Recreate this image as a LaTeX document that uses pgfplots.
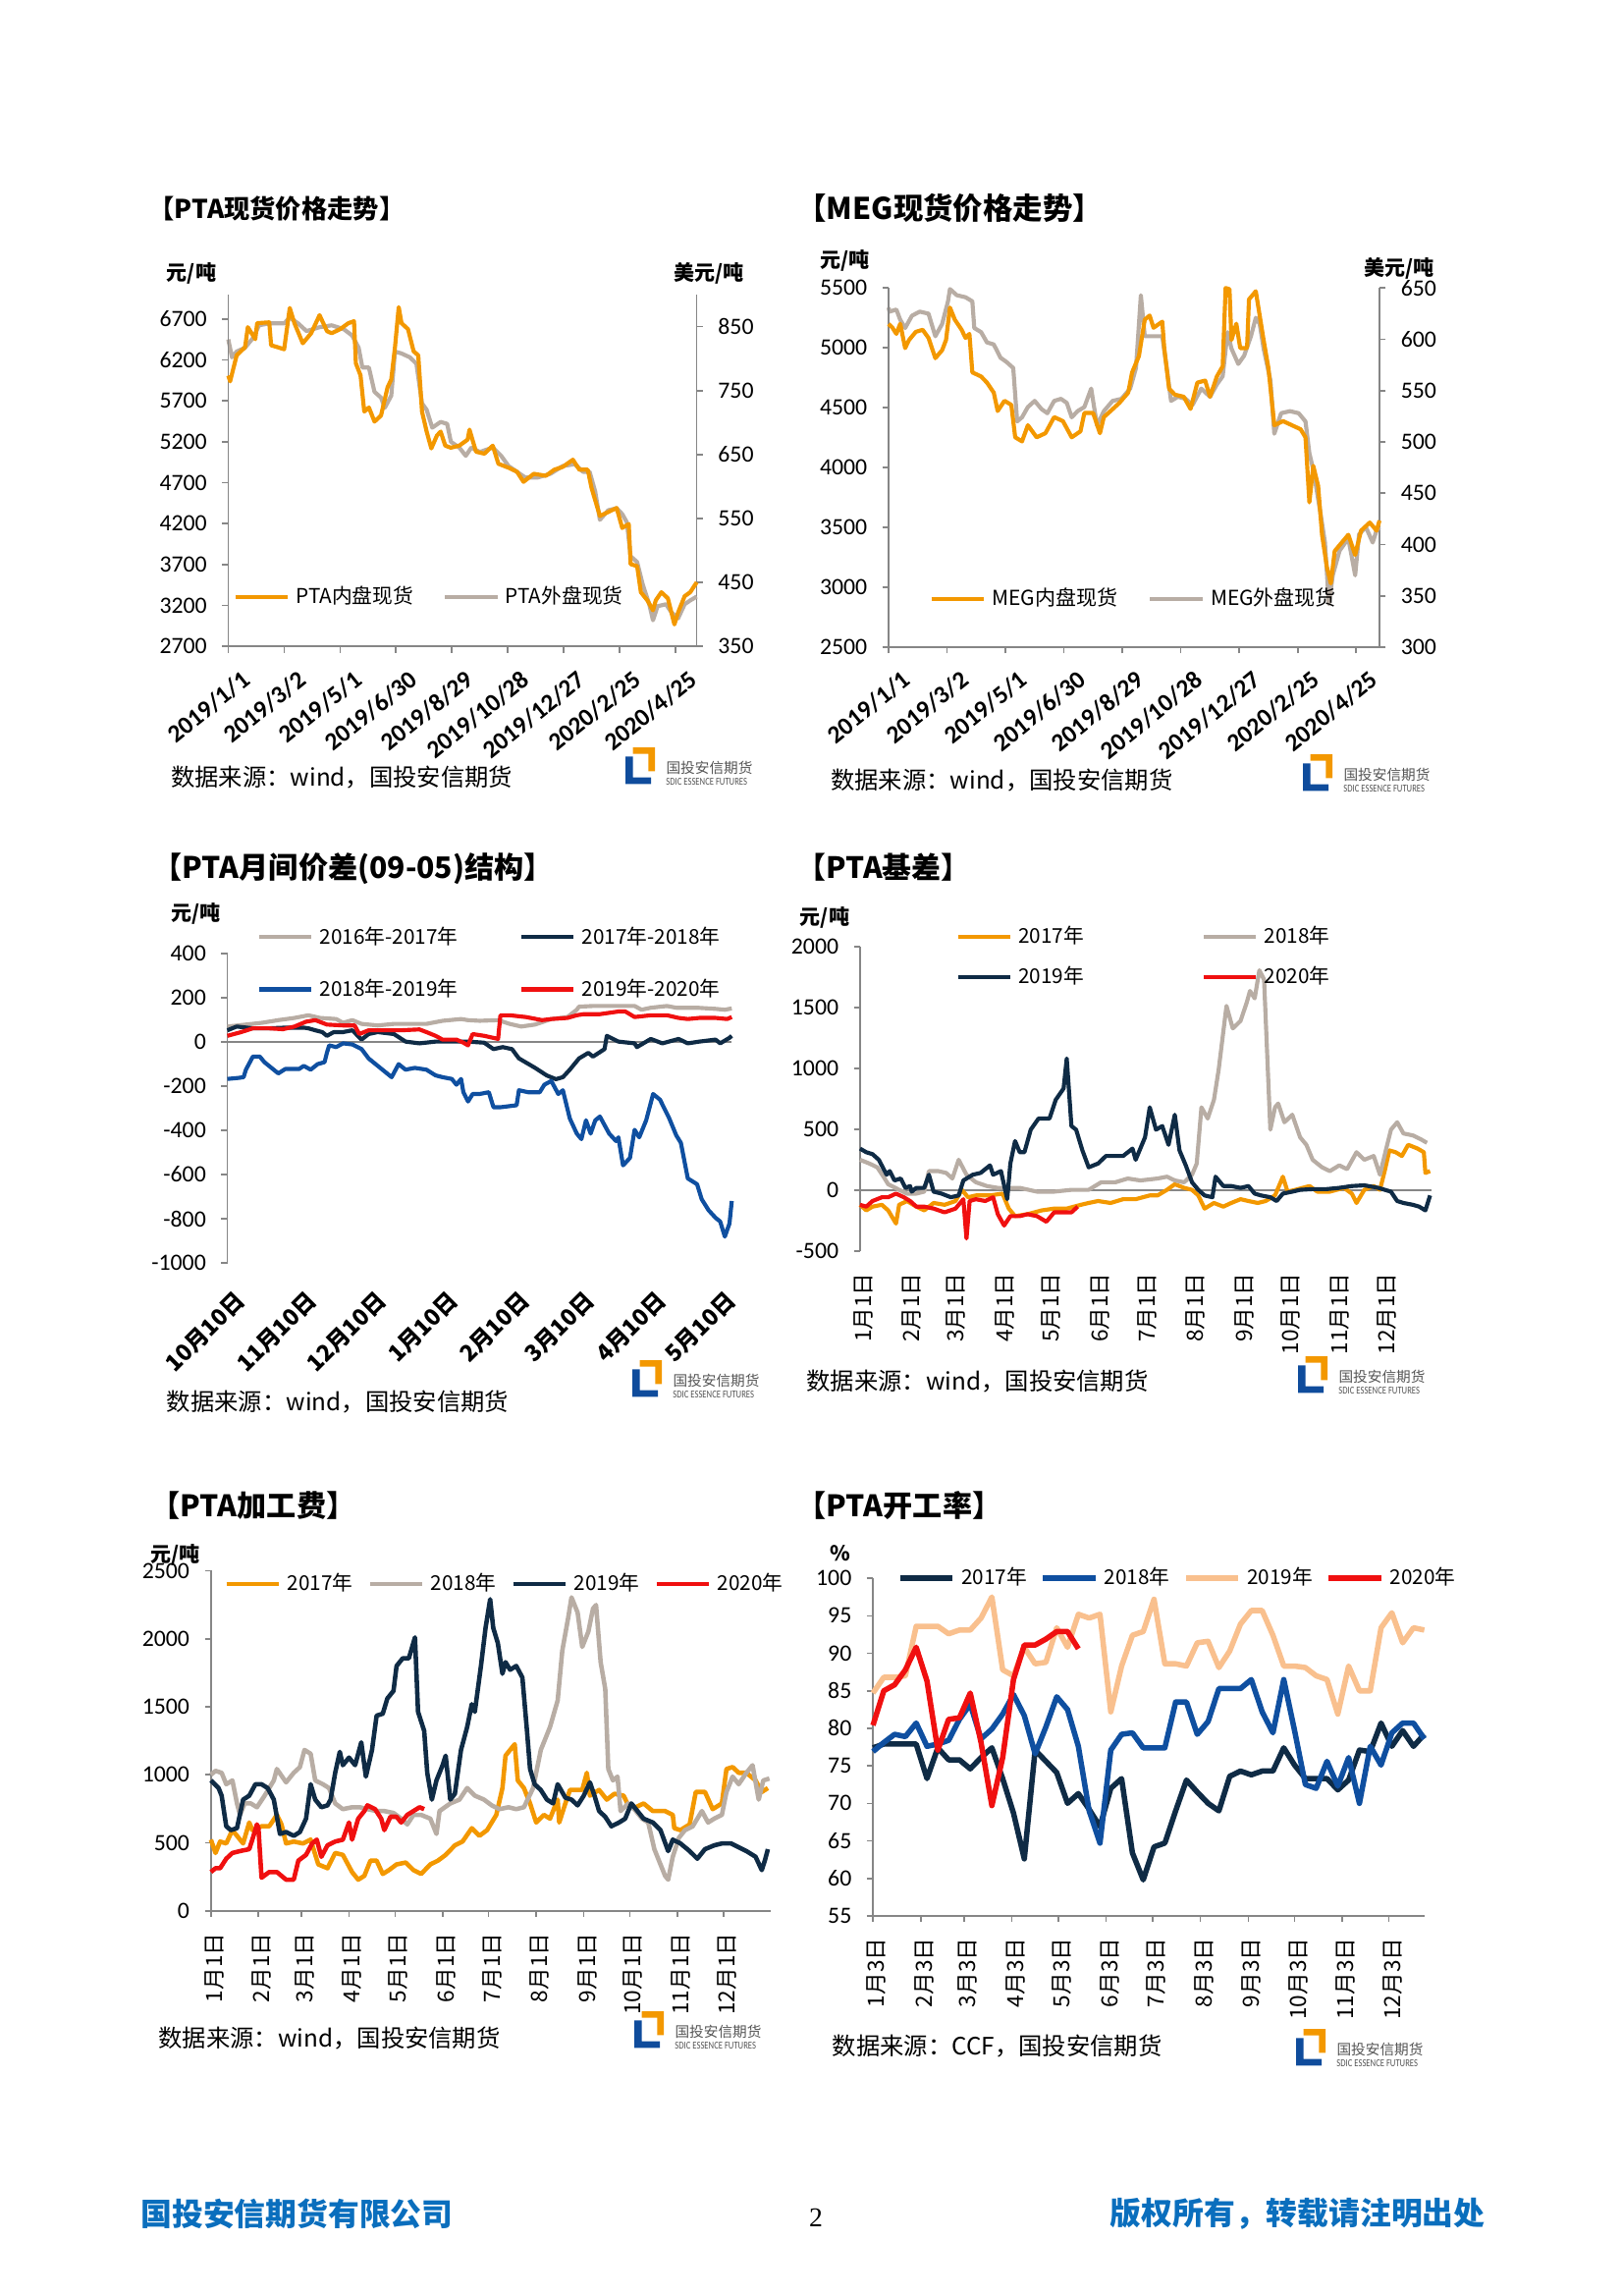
\documentclass[border=0pt]{standalone}
\usepackage{pgfplots}
\pgfplotsset{compat=1.18}
\usepackage{fontspec}
\setmainfont{Carlito}
\newfontfamily\cjk{Noto Sans CJK SC}
\newfontfamily\serif{Liberation Serif}

\definecolor{porange}{HTML}{F39800}
\definecolor{pgrey}{HTML}{B8ADA4}
\definecolor{pnavy}{HTML}{0F2B45}
\definecolor{pblue}{HTML}{0F4FA0}
\definecolor{pred}{HTML}{F01010}
\definecolor{ppeach}{HTML}{F9C08E}
\definecolor{axgrey}{HTML}{868686}
\definecolor{footblue}{HTML}{0A6EBD}
\definecolor{logoblue}{HTML}{0F4C9C}
\definecolor{logogrey}{HTML}{555555}

\pgfplotsset{
  base/.style={
    scale only axis, enlargelimits=false, clip=false,
    axis line style={draw=axgrey, line width=0.6pt},
    tick style={draw=axgrey, line width=0.6pt},
    tick align=outside, major tick length=0.8mm,
    /pgf/number format/assume math mode=true,
    /pgf/number format/1000 sep={},
    tick label style={font=\fontsize{8.6}{10}\selectfont},
    legend style={draw=none, fill=none, inner sep=0pt, outer sep=0pt,
      nodes={inner sep=0.8mm}, font=\cjk\fontsize{7.5}{9}\selectfont},
    legend cell align=left,
    legend image code/.code={\draw[##1] (0mm,0mm) -- (6.8mm,0mm);},
    every axis plot/.append style={line width=1.5pt, line join=round},
  },
  leftlab/.style={yticklabel style={inner sep=0pt, anchor=east, xshift=-1.9mm}},
  rightlab/.style={yticklabel style={inner sep=0pt, anchor=west, xshift=1.9mm}},
  datelab/.style={xticklabel style={font=\bfseries\fontsize{9.2}{11}\selectfont,
      inner sep=0pt, anchor=east, xshift=2.4mm, yshift=-3.0mm, rotate=39}},
  monthlab/.style={xticklabel style={font=\cjk\fontsize{8.2}{9}\selectfont,
      inner sep=0pt, anchor=east, xshift=0.45mm, yshift=-2.0mm, rotate=90}},
  zeroline/.style={extra y ticks={0}, extra y tick labels={},
      extra y tick style={grid=major, major grid style={draw=axgrey, line width=0.6pt}, major tick length=0pt}},
}

\newcommand\logo[2]{%
  \begin{scope}[shift={(#1,-#2)}]
    \fill[porange] (7.7,0) -- (30,0) -- (30,-24.3) -- (23.3,-24.3) -- (23.3,-6.7) -- (7.7,-6.7) -- cycle;
    \fill[logoblue] (0,-9.3) -- (7.7,-9.3) -- (7.7,-30.6) -- (26,-30.6) -- (26,-37.3) -- (0,-37.3) -- cycle;
    \node[anchor=west, inner sep=0pt, text=logogrey, font=\cjk\fontsize{5.3}{6}\selectfont] at (41,-21) {国投安信期货};
    \node[anchor=west, inner sep=0pt, text=logogrey, font=\fontsize{3.9}{4}\selectfont, xscale=0.8] at (41,-35) {SDIC ESSENCE FUTURES};
  \end{scope}}

\newcommand\ttl[4]{\node[anchor=west, inner sep=0pt, font=\cjk\bfseries\fontsize{#3}{12}\selectfont] at (#1,-#2) {#4};}
\newcommand\unit[3]{\node[anchor=west, inner sep=0pt, font=\cjk\bfseries\fontsize{7.6}{9}\selectfont] at (#1,-#2) {#3};}
\newcommand\src[3]{\node[anchor=west, inner sep=0pt, font=\cjk\fontsize{8.8}{10}\selectfont] at (#1,-#2) {#3};}

\begin{document}
\begin{tikzpicture}
\begin{scope}[x=0.12712mm, y=0.12712mm]
  \path (0,0) rectangle (1652,-2338);
  \coordinate (A1) at (232.5,-658.3);
  \coordinate (A2) at (905,-659);
  \coordinate (A3) at (231.6,-1286);
  \coordinate (A4) at (875.9,-1273.8);
  \coordinate (A5) at (214.8,-1945.9);
  \coordinate (A6) at (889.1,-1950.9);

  \ttl{151}{212.5}{9.5}{【PTA现货价格走势】}
  \ttl{811}{212}{11}{【MEG现货价格走势】}
  \ttl{155}{884.8}{10.9}{【PTA月间价差(09-05)结构】}
  \ttl{811}{882.9}{10.8}{【PTA基差】}
  \ttl{153}{1533.3}{10.9}{【PTA加工费】}
  \ttl{811}{1533.3}{10.9}{【PTA开工率】}

  \unit{169.4}{278}{元/吨}
  \node[anchor=east, inner sep=0pt, font=\cjk\bfseries\fontsize{7.6}{9}\selectfont] at (757.9,-278) {美元/吨};
  \unit{834.7}{265.6}{元/吨}
  \node[anchor=east, inner sep=0pt, font=\cjk\bfseries\fontsize{7.6}{9}\selectfont] at (1461,-273.5) {美元/吨};
  \unit{173.6}{930.7}{元/吨}
  \unit{814.4}{934.5}{元/吨}
  \unit{152.6}{1583.8}{元/吨}
  \unit{845}{1581.9}{\%}

  \src{173.6}{792}{数据来源：wind，国投安信期货}
  \src{845.7}{795}{数据来源：wind，国投安信期货}
  \src{169.4}{1427.5}{数据来源：wind，国投安信期货}
  \src{821}{1406.4}{数据来源：wind，国投安信期货}
  \src{161}{2075.3}{数据来源：wind，国投安信期货}
  \src{847.3}{2083}{数据来源：CCF，国投安信期货}

  \logo{637}{761}
  \logo{1327}{768}
  \logo{644}{1385}
  \logo{1322}{1381}
  \logo{646}{2048}
  \logo{1320}{2066}

  \node[anchor=west, inner sep=0pt, text=footblue, font=\cjk\bfseries\fontsize{11.5}{13}\selectfont] at (143,-2254) {国投安信期货有限公司};
  \node[inner sep=0pt, font=\serif\fontsize{10}{12}\selectfont] at (831,-2258) {2};
  \node[anchor=east, inner sep=0pt, text=footblue, font=\cjk\bfseries\fontsize{11.5}{13}\selectfont] at (1513,-2254) {版权所有，转载请注明出处};
\end{scope}

% ---------- PTA spot price: right axis (USD) ----------
\begin{axis}[base, rightlab, at={(A1)}, anchor=south west, width=60.65mm, height=45.55mm,
  xmin=0, xmax=503, ymin=350, ymax=900, axis x line=none, axis y line*=right,
  ytick={350,450,...,850}]
\addplot[pgrey] coordinates {(0,830)(4,802)(9,811)(18,817)(27,833)(33,852)(44,855)(60,855)(66,864)(75,855)(84,843)(98,849)(111,852)(124,846)(133,836)(140,817)(144,786)(151,786)(157,748)(164,739)(168,723)(175,742)(179,811)(186,808)(195,802)(202,792)(208,730)(213,720)(219,692)(228,701)(235,698)(239,670)(248,661)(255,648)(261,661)(270,654)(284,661)(293,648)(301,632)(310,623)(319,614)(332,614)(346,620)(359,632)(372,635)(381,623)(388,623)(394,592)(399,548)(408,563)(417,566)(423,557)(428,544)(432,491)(439,482)(445,447)(452,416)(456,391)(461,413)(470,416)(476,403)(483,394)(490,416)(496,422)(503,428)};
\end{axis}
% ---------- PTA spot price: left axis (CNY) ----------
\begin{axis}[base, leftlab, datelab, at={(A1)}, anchor=south west, width=60.65mm, height=45.55mm,
  xmin=0, xmax=503, ymin=2700, ymax=7000, axis x line*=bottom, axis y line*=left,
  ytick={2700,3200,...,6700}, xtick={0,60,...,480},
  xticklabels={2019/1/1,2019/3/2,2019/5/1,2019/6/30,2019/8/29,2019/10/28,2019/12/27,2020/2/25,2020/4/25},
  legend columns=2,
  legend style={at={(0.0105,0.140)}, anchor=west, /tikz/every even column/.append style={column sep=3mm}}]
\addplot[porange] coordinates {(0,6010)(2,5940)(9,6258)(18,6357)(21,6602)(29,6455)(31,6651)(44,6661)(46,6381)(53,6357)(60,6332)(66,6837)(71,6651)(80,6405)(89,6528)(98,6749)(106,6553)(111,6528)(120,6577)(129,6651)(135,6675)(137,6160)(142,6013)(146,5571)(151,5620)(157,5448)(164,5522)(171,5866)(175,5964)(179,6357)(183,6847)(186,6651)(193,6577)(199,6307)(204,6258)(208,5571)(213,5326)(218,5120)(224,5277)(228,5326)(233,5154)(239,5129)(248,5154)(257,5228)(259,5350)(266,5080)(275,5056)(284,5154)(290,4933)(301,4884)(310,4835)(317,4712)(328,4810)(341,4786)(350,4860)(359,4894)(370,4982)(377,4860)(386,4860)(390,4639)(399,4295)(408,4344)(417,4393)(423,4148)(430,4197)(432,3706)(439,3682)(443,3363)(450,3264)(456,3142)(459,3264)(465,3363)(472,3289)(479,2970)(483,3117)(490,3314)(496,3363)(503,3485)};
\addlegendentry{PTA内盘现货}
\addlegendimage{pgrey, line width=1.5pt}
\addlegendentry{PTA外盘现货}
\end{axis}

% ---------- MEG spot price: right axis (USD) ----------
\begin{axis}[base, rightlab, at={(A2)}, anchor=south west, width=63.56mm, height=46.49mm,
  xmin=0, xmax=504, ymin=300, ymax=650, axis x line=none, axis y line*=right,
  ytick={300,350,...,650}]
\addplot[pgrey] coordinates {(0,631)(1,627)(8,629)(12,619)(17,611)(24,623)(32,627)(41,625)(48,603)(55,615)(61,637)(63,649)(70,643)(79,641)(86,637)(88,611)(95,607)(101,597)(108,595)(115,582)(121,578)(128,572)(132,520)(137,524)(143,534)(150,540)(157,532)(163,528)(170,540)(177,542)(183,538)(188,524)(194,530)(201,534)(208,552)(214,516)(221,530)(230,540)(239,542)(248,552)(254,572)(259,643)(263,603)(272,603)(281,603)(285,576)(290,540)(297,544)(305,542)(312,536)(321,552)(330,544)(337,556)(343,564)(348,607)(352,591)(359,576)(365,584)(372,603)(377,621)(381,615)(385,591)(392,560)(396,508)(403,528)(412,530)(421,528)(428,520)(432,489)(436,473)(443,433)(448,402)(452,342)(456,370)(463,394)(472,406)(479,370)(483,410)(490,417)(497,402)(501,414)(504,417)};
\end{axis}
% ---------- MEG spot price: left axis (CNY) ----------
\begin{axis}[base, leftlab, datelab, at={(A2)}, anchor=south west, width=63.56mm, height=46.49mm,
  xmin=0, xmax=504, ymin=2500, ymax=5500, axis x line*=bottom, axis y line*=left,
  ytick={2500,3000,...,5500}, xtick={0,60,...,480},
  xticklabels={2019/1/1,2019/3/2,2019/5/1,2019/6/30,2019/8/29,2019/10/28,2019/12/27,2020/2/25,2020/4/25},
  legend columns=2,
  legend style={at={(0.083,0.1345)}, anchor=west, font=\cjk\fontsize{7.6}{9}\selectfont, /tikz/every even column/.append style={column sep=3.1mm}}]
\addplot[porange] coordinates {(0,5200)(4,5168)(8,5117)(12,5202)(17,4998)(21,5066)(28,5134)(35,5151)(41,5083)(48,4914)(55,4981)(59,5066)(63,5337)(68,5236)(75,5151)(79,5083)(83,5117)(86,4795)(95,4761)(101,4710)(108,4626)(112,4473)(119,4558)(126,4524)(130,4253)(137,4219)(143,4354)(152,4253)(161,4287)(170,4422)(179,4388)(188,4253)(197,4303)(201,4456)(210,4456)(217,4287)(221,4422)(228,4473)(237,4541)(246,4626)(250,4795)(257,4931)(263,5236)(268,5270)(272,5168)(281,5219)(283,4998)(288,4659)(294,4609)(303,4592)(310,4490)(317,4710)(325,4727)(330,4592)(337,4761)(343,4846)(346,5500)(350,5490)(352,5066)(357,5202)(361,4998)(368,4998)(370,5405)(377,5473)(381,5270)(385,5066)(390,4829)(396,4354)(405,4388)(414,4354)(423,4320)(428,4253)(432,3710)(436,4015)(441,3846)(445,3439)(450,3168)(454,3032)(458,3303)(465,3371)(472,3439)(479,3270)(485,3473)(494,3541)(501,3473)(504,3558)};
\addlegendentry{MEG内盘现货}
\addlegendimage{pgrey, line width=1.5pt}
\addlegendentry{MEG外盘现货}
\end{axis}

% ---------- PTA 09-05 spread ----------
\begin{axis}[base, leftlab, zeroline, at={(A3)}, anchor=south west, width=65.30mm, height=40.07mm,
  xmin=0, xmax=218, ymin=-1000, ymax=400, axis x line*=bottom, axis y line*=left,
  x axis line style={draw=none}, xtick style={draw=none},
  ytick={-1000,-800,...,400}, xtick={0,31,61,92,123,151,182,212},
  xticklabels={10月10日,11月10日,12月10日,1月10日,2月10日,3月10日,4月10日,5月10日},
  xticklabel style={font=\cjk\bfseries\fontsize{8.4}{9}\selectfont, inner sep=0pt, anchor=east, xshift=1.8mm, yshift=-3.5mm, rotate=45},
  legend columns=2,
  legend style={at={(0.059,0.968)}, anchor=west, row sep=2.4mm, /tikz/every even column/.append style={column sep=7.1mm}}]
\addplot[pgrey] coordinates {(0,69)(8,78)(15,86)(22,98)(29,108)(35,120)(40,108)(47,103)(50,86)(54,98)(58,81)(65,74)(72,81)(79,81)(86,81)(93,95)(101,103)(104,98)(109,95)(117,98)(122,81)(127,69)(133,78)(140,103)(147,112)(151,145)(152,159)(158,162)(167,162)(176,162)(179,145)(183,154)(190,162)(194,154)(203,154)(211,149)(215,145)(218,151)};
\addlegendentry{2016年-2017年}
\addplot[pnavy] coordinates {(0,52)(4,69)(11,61)(18,61)(25,64)(33,64)(35,61)(38,52)(41,44)(43,27)(46,44)(50,44)(54,52)(58,10)(61,35)(65,44)(72,35)(77,1)(83,-7)(90,1)(97,1)(104,1)(111,-4)(115,-33)(119,-24)(123,-33)(126,-75)(133,-118)(138,-152)(142,-169)(145,-160)(148,-126)(152,-75)(156,-50)(158,-67)(163,-33)(164,27)(169,1)(176,-7)(177,-24)(183,13)(188,-7)(195,13)(199,-7)(204,1)(211,10)(213,-7)(217,18)(218,27)};
\addlegendentry{2017年-2018年}
\addplot[pblue] coordinates {(0,-168)(5,-163)(7,-160)(8,-126)(11,-67)(14,-67)(16,-92)(18,-109)(22,-143)(25,-123)(31,-123)(33,-109)(36,-126)(39,-101)(42,-92)(43,-50)(44,-16)(47,-24)(50,-7)(54,-12)(58,-33)(61,-75)(67,-126)(71,-160)(74,-101)(77,-126)(81,-118)(86,-126)(90,-152)(93,-160)(97,-168)(99,-194)(101,-168)(102,-228)(104,-270)(106,-236)(109,-236)(113,-228)(115,-296)(118,-296)(125,-287)(126,-219)(130,-228)(135,-228)(137,-194)(140,-177)(143,-236)(145,-219)(148,-347)(151,-415)(153,-440)(155,-355)(157,-415)(159,-355)(161,-338)(165,-415)(168,-449)(169,-432)(171,-559)(174,-525)(176,-398)(178,-432)(181,-355)(184,-236)(187,-262)(191,-347)(194,-423)(196,-457)(199,-618)(203,-644)(205,-712)(208,-762)(211,-796)(213,-813)(215,-881)(217,-822)(218,-720)};
\addlegendentry{2018年-2019年}
\addplot[pred] coordinates {(0,27)(6,44)(11,61)(18,61)(24,57)(29,69)(34,91)(38,98)(43,78)(50,74)(55,74)(57,35)(61,52)(68,52)(75,52)(83,56)(86,44)(90,27)(93,10)(99,10)(102,-4)(104,-16)(106,35)(111,27)(117,13)(118,120)(122,120)(129,112)(136,98)(140,103)(147,108)(151,120)(154,125)(161,125)(169,137)(172,137)(176,112)(183,120)(190,120)(195,108)(199,103)(204,108)(211,108)(216,103)(218,112)};
\addlegendentry{2019年-2020年}
\end{axis}

% ---------- PTA basis ----------
\begin{axis}[base, leftlab, monthlab, zeroline, at={(A4)}, anchor=south west, width=74.01mm, height=39.39mm,
  xmin=0, xmax=365, ymin=-500, ymax=2000, axis x line*=bottom, axis y line*=left,
  x axis line style={draw=none}, xtick style={draw=none},
  ytick={-500,0,...,2000}, xtick={0,31,59,90,120,151,181,212,243,273,304,334},
  xticklabels={1月1日,2月1日,3月1日,4月1日,5月1日,6月1日,7月1日,8月1日,9月1日,10月1日,11月1日,12月1日},
  legend columns=2,
  legend style={at={(0.1675,0.966)}, anchor=west, row sep=0.8mm, /tikz/every even column/.append style={column sep=14.4mm}}]
\addplot[porange] coordinates {(0,-121)(4,-167)(8,-136)(14,-121)(18,-167)(23,-275)(25,-121)(30,-90)(36,-136)(41,-167)(47,-106)(54,-121)(61,-90)(65,2)(69,-59)(74,-44)(83,-44)(91,-29)(95,-152)(99,-214)(107,-198)(116,-167)(124,-152)(132,-152)(141,-121)(146,-106)(152,-90)(160,-106)(168,-75)(176,-75)(185,-44)(190,-44)(196,2)(201,48)(207,18)(212,2)(216,-44)(220,-152)(226,-106)(232,-136)(237,-106)(243,-75)(248,-90)(254,-106)(259,-90)(265,-44)(270,110)(273,-13)(278,2)(287,33)(292,-13)(300,-13)(309,18)(314,-29)(317,-106)(322,2)(328,33)(332,2)(335,156)(338,326)(342,311)(346,280)(350,372)(356,341)(360,311)(361,141)(364,156)};
\addlegendentry{2017年}
\addplot[pgrey] coordinates {(0,249)(6,218)(11,187)(15,110)(18,48)(25,2)(30,-29)(36,-29)(41,-13)(44,156)(50,156)(55,141)(59,95)(63,249)(68,126)(74,64)(81,33)(88,18)(96,18)(102,18)(113,-13)(124,-13)(135,2)(146,2)(154,64)(163,64)(171,95)(179,79)(190,95)(196,110)(201,79)(207,64)(212,126)(215,218)(218,680)(222,588)(226,742)(229,989)(234,1513)(238,1328)(243,1390)(247,1544)(249,1636)(252,1575)(255,1806)(258,1729)(259,1420)(262,496)(265,680)(267,711)(271,557)(276,619)(281,434)(285,372)(289,249)(295,187)(300,156)(306,203)(311,172)(317,311)(322,249)(328,280)(332,126)(336,341)(339,496)(343,557)(347,465)(353,449)(358,418)(362,388)};
\addlegendentry{2018年}
\addplot[pnavy] coordinates {(0,341)(4,311)(8,295)(12,249)(17,126)(19,156)(22,79)(26,95)(29,18)(32,33)(33,-13)(36,18)(41,18)(44,126)(47,-13)(52,-29)(58,-59)(63,-44)(66,79)(72,126)(77,141)(83,203)(85,126)(90,156)(94,-75)(96,218)(99,403)(102,311)(105,311)(109,496)(114,588)(121,588)(125,742)(130,835)(132,1081)(135,526)(138,496)(142,326)(146,187)(152,218)(157,280)(163,280)(168,280)(174,341)(176,249)(182,434)(185,680)(189,496)(193,526)(197,372)(201,619)(204,326)(208,203)(212,64)(216,2)(220,-44)(225,-59)(227,110)(232,33)(237,33)(243,18)(248,33)(252,-29)(256,-44)(262,-59)(266,-90)(270,-29)(276,-13)(281,2)(289,8)(298,8)(306,18)(314,33)(322,39)(331,18)(339,-13)(343,-90)(347,-106)(353,-121)(357,-136)(361,-167)(364,-44)};
\addlegendentry{2019年}
\addplot[pred] coordinates {(0,-121)(4,-136)(8,-90)(14,-59)(18,-59)(23,-29)(28,-59)(32,-90)(36,-136)(41,-136)(47,-152)(54,-183)(61,-152)(66,-75)(68,-398)(70,-90)(74,-75)(80,-90)(85,-59)(88,-198)(92,-291)(96,-214)(102,-214)(107,-198)(113,-214)(119,-260)(124,-183)(130,-183)(135,-183)(139,-136)};
\addlegendentry{2020年}
\end{axis}

% ---------- PTA processing margin ----------
\begin{axis}[base, leftlab, monthlab, at={(A5)}, anchor=south west, width=72.51mm, height=44.05mm,
  xmin=0, xmax=365, ymin=0, ymax=2500, axis x line*=bottom, axis y line*=left,
  ytick={0,500,...,2500}, xtick={0,31,59,90,120,151,181,212,243,273,304,334},
  xticklabels={1月1日,2月1日,3月1日,4月1日,5月1日,6月1日,7月1日,8月1日,9月1日,10月1日,11月1日,12月1日},
  every axis plot/.append style={line width=1.65pt},
  legend columns=4,
  legend style={at={(0.0237,0.961)}, anchor=west, /tikz/every even column/.append style={column sep=1.1mm}}]
\addplot[porange] coordinates {(0,524)(3,426)(6,510)(10,496)(14,594)(18,538)(21,496)(25,650)(27,594)(33,622)(38,622)(43,706)(46,636)(49,496)(54,510)(60,496)(65,524)(70,342)(76,314)(81,426)(86,412)(92,286)(96,230)(100,258)(104,370)(108,370)(112,272)(116,300)(121,342)(127,356)(132,300)(137,272)(143,342)(148,370)(153,412)(159,482)(164,510)(170,608)(175,552)(180,594)(186,706)(190,903)(192,1141)(195,1183)(198,1225)(200,959)(204,903)(208,790)(212,650)(217,706)(221,678)(226,818)(227,650)(231,790)(234,889)(242,889)(245,1015)(247,847)(253,889)(258,818)(263,861)(269,847)(272,776)(277,762)(282,790)(288,734)(296,734)(301,706)(302,608)(306,594)(312,636)(316,874)(322,874)(327,748)(333,790)(336,1043)(340,1057)(344,1015)(349,1015)(355,959)(359,874)(363,903)};
\addlegendentry{2017年}
\addplot[pgrey] coordinates {(0,1001)(3,1029)(7,1015)(10,931)(14,959)(17,790)(19,706)(22,790)(26,790)(30,762)(35,847)(41,959)(43,1043)(49,945)(54,1015)(58,1057)(61,1183)(65,1155)(68,959)(73,931)(77,903)(81,790)(86,748)(92,762)(97,762)(102,748)(108,734)(113,734)(119,720)(124,678)(128,636)(132,706)(137,706)(143,678)(147,566)(149,734)(156,790)(162,818)(167,903)(172,847)(178,818)(183,776)(188,748)(194,762)(199,748)(204,762)(210,903)(215,1183)(221,1351)(226,1547)(229,1912)(233,2164)(235,2304)(239,2192)(242,1940)(246,2052)(249,2220)(251,2248)(254,1828)(257,1631)(259,1043)(262,959)(265,987)(267,734)(272,790)(277,734)(281,678)(285,650)(289,454)(292,370)(296,258)(298,230)(301,398)(305,538)(309,594)(314,622)(320,734)(324,650)(328,678)(333,706)(336,874)(340,987)(344,931)(349,1015)(353,1071)(357,818)(360,959)(364,973)};
\addlegendentry{2018年}
\addplot[pnavy] coordinates {(0,959)(5,903)(7,847)(10,622)(13,594)(17,608)(21,818)(25,847)(29,931)(33,931)(37,903)(41,818)(45,566)(49,580)(54,552)(58,580)(62,678)(65,931)(68,818)(72,762)(76,776)(78,818)(81,1015)(84,1169)(86,1071)(90,1127)(94,1071)(98,1239)(101,987)(105,1183)(108,1435)(112,1449)(115,1561)(119,1617)(121,1800)(125,1856)(129,1856)(133,2010)(135,1463)(139,1323)(141,1015)(144,818)(147,959)(151,1071)(153,1141)(156,818)(159,861)(163,1183)(167,1351)(170,1519)(172,1463)(176,1800)(179,2080)(182,2290)(184,2080)(187,1968)(190,1743)(192,1828)(195,1772)(199,1800)(203,1715)(206,1323)(208,1043)(211,931)(215,889)(219,818)(223,790)(226,931)(231,832)(235,818)(239,776)(243,847)(247,945)(250,847)(253,734)(257,692)(261,622)(266,650)(270,678)(274,790)(278,734)(282,678)(288,650)(293,594)(298,440)(301,524)(306,496)(312,440)(317,384)(322,454)(328,482)(333,496)(339,496)(344,468)(349,440)(355,398)(359,300)(361,370)(363,454)};
\addlegendentry{2019年}
\addplot[pred] coordinates {(0,286)(3,314)(6,314)(10,384)(14,426)(19,440)(25,454)(27,524)(30,636)(31,608)(33,244)(38,286)(43,286)(49,230)(54,230)(57,370)(62,412)(66,496)(69,524)(72,398)(76,482)(81,510)(86,524)(90,650)(92,524)(96,678)(100,734)(102,776)(107,748)(111,678)(113,594)(117,692)(121,692)(124,650)(128,706)(132,734)(136,762)(139,748)};
\addlegendentry{2020年}
\end{axis}

% ---------- PTA operating rate ----------
\begin{axis}[base, leftlab, monthlab, at={(A6)}, anchor=south west, width=71.38mm, height=43.70mm,
  xmin=0, xmax=357, ymin=55, ymax=100, axis x line*=bottom, axis y line*=left,
  ytick={55,60,...,100}, xtick={0,31,59,90,120,151,181,212,243,273,304,334},
  xticklabels={1月3日,2月3日,3月3日,4月3日,5月3日,6月3日,7月3日,8月3日,9月3日,10月3日,11月3日,12月3日},
  every axis plot/.append style={line width=2pt},
  legend columns=4,
  legend style={at={(0.0445,1.0)}, anchor=west, /tikz/every even column/.append style={column sep=0.9mm}}]
\addplot[pnavy] coordinates {(0,77.4)(7,77.9)(14,77.9)(21,77.9)(28,77.9)(35,73.3)(42,77.4)(49,75.8)(56,75.8)(63,74.6)(70,76.1)(77,77.4)(84,73.3)(91,68.7)(98,62.6)(105,77.1)(112,75.6)(119,74.1)(126,70.0)(133,71.3)(140,69.2)(147,66.9)(154,72.0)(161,73.3)(168,63.4)(175,59.8)(182,64.2)(189,64.7)(196,69.0)(203,73.1)(210,71.5)(217,70.0)(224,69.0)(231,73.6)(238,74.3)(245,73.8)(252,74.3)(259,74.3)(266,77.4)(273,75.1)(280,73.3)(287,73.3)(294,73.3)(301,71.8)(308,73.1)(315,77.1)(322,76.9)(329,80.7)(336,77.6)(343,79.7)(350,77.6)(357,79.2)};
\addlegendentry{2017年}
\addplot[pblue] coordinates {(0,76.9)(7,78.1)(14,79.2)(21,78.9)(28,80.7)(35,77.6)(42,77.9)(49,78.4)(56,81.2)(63,83.2)(70,78.6)(77,79.9)(84,81.9)(91,84.5)(98,81.7)(105,76.6)(112,80.2)(119,84.2)(126,82.5)(133,77.6)(140,69.0)(147,64.7)(154,77.1)(161,79.2)(168,79.4)(175,77.4)(182,77.4)(189,77.4)(196,83.5)(203,83.5)(210,79.2)(217,80.9)(224,85.3)(231,85.3)(238,85.3)(245,86.5)(252,82.2)(259,79.4)(266,86.5)(273,79.7)(280,72.5)(287,72.0)(294,75.6)(301,72.3)(308,76.1)(315,70.0)(322,77.6)(329,75.1)(336,79.4)(343,80.7)(350,80.7)(357,78.6)};
\addlegendentry{2018年}
\addplot[ppeach] coordinates {(0,84.7)(7,86.8)(14,86.8)(21,87.0)(28,93.6)(35,93.6)(42,93.6)(49,92.6)(56,93.1)(63,93.1)(70,94.7)(77,97.5)(84,87.8)(91,87.0)(98,90.8)(105,88.6)(112,88.8)(119,93.4)(126,90.8)(133,95.2)(140,94.7)(147,95.2)(154,82.2)(161,88.3)(168,92.4)(175,92.9)(182,97.2)(189,88.6)(196,88.6)(203,88.3)(210,91.4)(217,91.6)(224,88.1)(231,90.3)(238,93.9)(245,95.7)(252,95.7)(259,92.4)(266,88.3)(273,88.3)(280,88.1)(287,87.0)(294,86.5)(301,81.9)(308,88.3)(315,85.0)(322,85.0)(329,93.4)(336,95.4)(343,91.4)(350,93.4)(357,93.1)};
\addlegendentry{2019年}
\addplot[pred] coordinates {(0,80.4)(7,85.0)(14,85.8)(21,87.8)(28,90.8)(35,86.3)(42,77.1)(49,81.2)(56,81.4)(63,84.7)(70,78.1)(77,69.7)(84,76.1)(91,86.5)(98,91.1)(105,91.1)(112,91.9)(119,92.9)(126,92.9)(133,90.6)};
\addlegendentry{2020年}
\end{axis}
\end{tikzpicture}
\end{document}
